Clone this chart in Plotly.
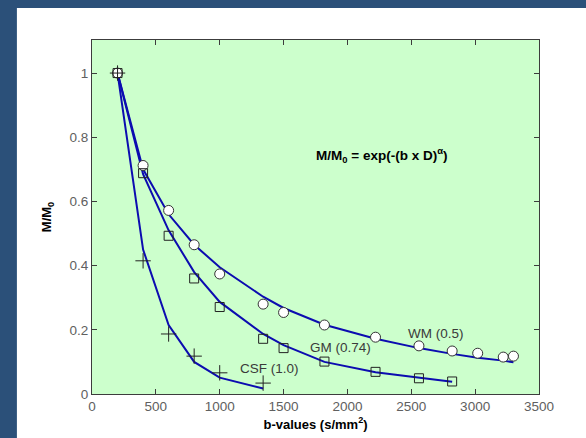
import plotly.graph_objects as go

# Measured signal decay (markers) and stretched-exponential fits (lines)
b_wm = [200, 400, 600, 800, 1000, 1340, 1500, 1820, 2220, 2560, 2820, 3020, 3220, 3300]
wm_meas = [1.0, 0.712, 0.572, 0.465, 0.374, 0.28, 0.254, 0.215, 0.177, 0.150, 0.134, 0.127, 0.115, 0.118]
wm_fit = [1.0, 0.70, 0.56, 0.465, 0.395, 0.303, 0.268, 0.216, 0.172, 0.143, 0.125, 0.113, 0.104, 0.099]

b_gm = [200, 400, 600, 800, 1000, 1340, 1500, 1820, 2220, 2560, 2820]
gm_meas = [1.0, 0.688, 0.493, 0.36, 0.271, 0.172, 0.143, 0.101, 0.069, 0.049, 0.039]
gm_fit = [1.0, 0.685, 0.51, 0.38, 0.287, 0.187, 0.152, 0.10, 0.068, 0.05, 0.038]

b_csf = [200, 400, 600, 800, 1000, 1340]
csf_meas = [1.0, 0.415, 0.187, 0.118, 0.066, 0.034]
csf_fit = [1.0, 0.45, 0.215, 0.10, 0.051, 0.017]

x_ticks = [0, 500, 1000, 1500, 2000, 2500, 3000, 3500]
y_ticks = [0, 0.2, 0.4, 0.6, 0.8, 1.0]
y_tick_text = ["0", "0.2", "0.4", "0.6", "0.8", "1"]

LINE = "#0c0cb0"
FONT = "Liberation Sans, Arial, sans-serif"

fig = go.Figure()

for bx, fit in [(b_wm, wm_fit), (b_gm, gm_fit), (b_csf, csf_fit)]:
    fig.add_trace(go.Scatter(x=bx, y=fit, mode="lines",
                             line=dict(color=LINE, width=2), hoverinfo="skip"))

fig.add_trace(go.Scatter(x=b_wm, y=wm_meas, mode="markers",
                         marker=dict(symbol="circle", size=10, color="white",
                                     line=dict(color="#333333", width=1))))
fig.add_trace(go.Scatter(x=b_gm, y=gm_meas, mode="markers",
                         marker=dict(symbol="square-open", size=9, color="#222222",
                                     line=dict(width=1))))
fig.add_trace(go.Scatter(x=b_csf, y=csf_meas, mode="markers",
                         marker=dict(symbol="cross-thin", size=11,
                                     line=dict(color="#222222", width=1))))

label_font = dict(family=FONT, size=13.5, color="#3a3a3a")
fig.add_annotation(x=2460, y=0.19, text="WM (0.5)", showarrow=False,
                   xanchor="left", yanchor="middle", font=label_font)
fig.add_annotation(x=1689, y=0.145, text="GM (0.74)", showarrow=False,
                   xanchor="left", yanchor="middle", font=label_font)
fig.add_annotation(x=1143, y=0.081, text="CSF (1.0)", showarrow=False,
                   xanchor="left", yanchor="middle", font=label_font)
fig.add_annotation(x=1735, y=0.745,
                   text="<b>M/M<sub>0</sub> = exp(-(b x D)<sup>α</sup>)</b>",
                   showarrow=False, xanchor="left", yanchor="middle",
                   font=dict(family=FONT, size=13.5, color="black"))

# Dark blue frame strips along the left and top edges of the page
BLUE = "#2b5079"
fig.add_shape(type="rect", xref="paper", yref="paper", x0=-0.5, x1=-0.168,
              y0=-0.5, y1=1.5, fillcolor=BLUE, line=dict(width=0), layer="below")
fig.add_shape(type="rect", xref="paper", yref="paper", x0=-0.5, x1=1.5,
              y0=1.0904, y1=1.5, fillcolor=BLUE, line=dict(width=0), layer="below")

axis_common = dict(showgrid=False, zeroline=False, showline=True,
                   linecolor="#3c3c3c", linewidth=1, mirror="ticks",
                   ticks="inside", ticklen=5, tickcolor="#3c3c3c",
                   automargin=False,
                   tickfont=dict(family=FONT, size=13.5, color="#606060"))

fig.update_layout(
    width=586, height=438,
    margin=dict(l=92, r=47, t=40, b=44),
    paper_bgcolor="white", plot_bgcolor="#ccffcc",
    showlegend=False,
    xaxis=dict(range=[0, 3500], tickvals=x_ticks,
               title=dict(text="<b>b-values (s/mm<sup>2</sup>)</b>", standoff=6,
                          font=dict(family=FONT, size=13, color="black")),
               **axis_common),
    yaxis=dict(range=[0, 1.103], tickvals=y_ticks, ticktext=y_tick_text,
               title=dict(text="<b>M/M<sub>0</sub></b>", standoff=14,
                          font=dict(family=FONT, size=13, color="black")),
               **axis_common),
)

fig.write_html("out.html")
